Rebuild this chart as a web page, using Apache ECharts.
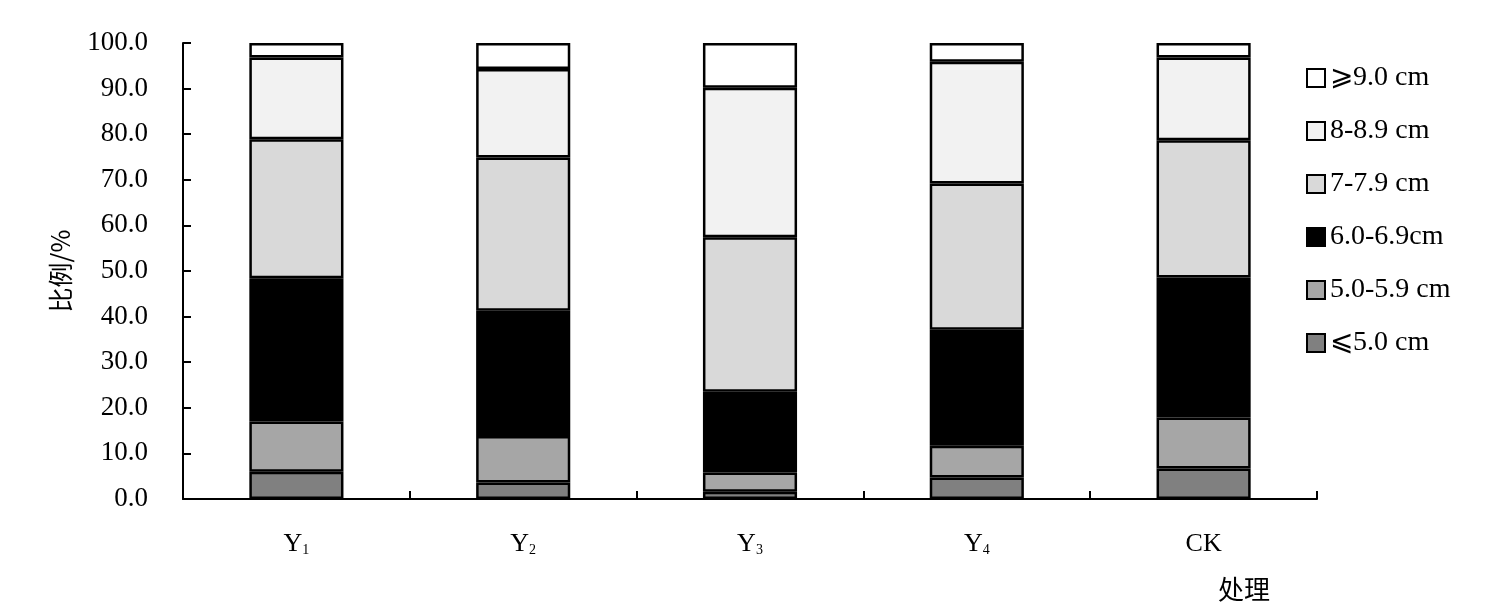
<!DOCTYPE html>
<html><head><meta charset="utf-8">
<script src="https://cdn.jsdelivr.net/npm/echarts@6/dist/echarts.min.js"></script>
<style>html,body{margin:0;padding:0;background:#fff}#c{width:1500px;height:613px}</style>
</head><body><div id="c"></div>
<script>
var categories = ['Y1', 'Y2', 'Y3', 'Y4', 'CK'];
var seriesNames = ['⩽5.0 cm', '5.0-5.9 cm', '6.0-6.9cm', '7-7.9 cm', '8-8.9 cm', '⩾9.0 cm'];
var le5 = [6.0, 3.6, 1.6, 4.7, 6.7];
var s5_59 = [11.0, 10.2, 4.2, 7.0, 11.2];
var s6_69 = [31.4, 27.5, 17.7, 25.4, 30.7];
var s7_79 = [30.5, 33.6, 33.9, 32.1, 30.1];
var s8_89 = [17.9, 19.4, 32.8, 26.7, 18.1];
var ge9 = [3.2, 5.7, 9.8, 4.1, 3.2];
var yTicks = [0, 10, 20, 30, 40, 50, 60, 70, 80, 90, 100];
var colors = ['#808080', '#a6a6a6', '#000000', '#d9d9d9', '#f2f2f2', '#ffffff'];
var values = [le5, s5_59, s6_69, s7_79, s8_89, ge9];

var serif = '"Liberation Serif", "Times New Roman", serif';
var cjk = '"Noto Sans CJK SC", sans-serif';

var chart = echarts.init(document.getElementById('c'), null, {renderer: 'canvas'});
var series = values.map(function (v, i) {
  return {
    name: seriesNames[i], type: 'bar', stack: 'total', data: v,
    barWidth: '41.5%',
    itemStyle: {color: colors[i], borderColor: '#000', borderWidth: 2.5},
    emphasis: {disabled: true}
  };
});
chart.setOption({
  animation: false,
  backgroundColor: '#fff',
  grid: {left: 183, right: 183, top: 43, bottom: 114},
  legend: {
    orient: 'vertical', left: 1301, top: 59,
    icon: 'rect',
    itemWidth: 18, itemHeight: 18, itemGap: 25,
    data: seriesNames.slice().reverse(),
    textStyle: {fontFamily: serif, fontSize: 28, color: '#000', padding: [0, 0, 0, 0]},
    itemStyle: {borderColor: '#000', borderWidth: 2}
  },
  xAxis: {
    type: 'category', data: categories,
    axisLine: {show: true, lineStyle: {color: '#000', width: 2}},
    axisTick: {show: true, inside: true, length: 8, lineStyle: {color: '#000', width: 2}},
    axisLabel: {
      margin: 32,
      formatter: function (v) {
        if (v.charAt(0) === 'Y') return 'Y{s|' + v.slice(1) + '}';
        return v;
      },
      fontFamily: serif, fontSize: 26, color: '#000',
      rich: {s: {fontFamily: serif, fontSize: 14, color: '#000', verticalAlign: 'bottom', padding: [10, 0, 0, 0]}}
    }
  },
  yAxis: {
    type: 'value', min: yTicks[0], max: yTicks[yTicks.length - 1], interval: 10,
    name: '比例/%', nameLocation: 'middle', nameGap: 110, nameRotate: 90,
    nameTextStyle: {fontFamily: cjk, fontSize: 25, color: '#000'},
    axisLine: {show: true, lineStyle: {color: '#000', width: 2}},
    axisTick: {show: true, inside: true, length: 8, lineStyle: {color: '#000', width: 2}},
    splitLine: {show: false},
    axisLabel: {
      margin: 35, fontFamily: serif, fontSize: 27, color: '#000',
      formatter: function (v) { return v.toFixed(1); }
    }
  },
  graphic: [{
    type: 'text', left: 1218, top: 576,
    style: {text: '处理', font: '26px ' + cjk, fill: '#000'}
  }],
  series: series
});
</script></body></html>
